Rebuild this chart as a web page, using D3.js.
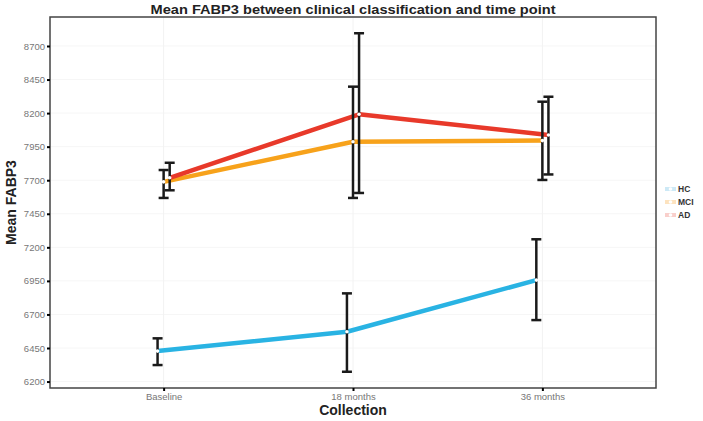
<!DOCTYPE html>
<html>
<head>
<meta charset="utf-8">
<script src="https://cdn.jsdelivr.net/npm/d3@7"></script>
<style>
  html, body { margin: 0; padding: 0; background: #fff; }
  svg { display: block; font-family: "Liberation Sans", Arial, sans-serif; }
</style>
</head>
<body>
<svg id="chart" width="703" height="421"></svg>
<script>
// ---- data ----
const categories = ["Baseline", "18 months", "36 months"];
const groups = ["HC", "MCI", "AD"];
const hcMean = [6427, 6571, 6956];
const hcUpper = [6522, 6857, 7260];
const hcLower = [6323, 6273, 6658];
const mciMean = [7688, 7987, 7995];
const mciUpper = [7776, 8397, 8285];
const mciLower = [7568, 7568, 7702];
const adMean = [7718, 8191, 8037];
const adUpper = [7830, 8795, 8322];
const adLower = [7625, 7605, 7743];
const yTicks = [6200, 6450, 6700, 6950, 7200, 7450, 7700, 7950, 8200, 8450, 8700];
const colors = ["#29b3e3", "#f7a21b", "#e8392a"];
const legendColors = ["#cde9f6", "#fde3bf", "#f9cfcb"];

const series = [
  { name: groups[0], mean: hcMean, upper: hcUpper, lower: hcLower, color: colors[0], dodge: -0.032 },
  { name: groups[1], mean: mciMean, upper: mciUpper, lower: mciLower, color: colors[1], dodge: 0 },
  { name: groups[2], mean: adMean, upper: adUpper, lower: adLower, color: colors[2], dodge: 0.032 }
];

// ---- layout ----
const svg = d3.select("#chart");
const m = { left: 50, right: 656, top: 17, bottom: 388 };

const x = d3.scalePoint().domain(categories).range([m.left, m.right]).padding(0.6);
const step = x.step();
const y = d3.scaleLinear().domain([6152, 8916]).range([m.bottom, m.top]);

// gridlines (very faint)
const grid = svg.append("g");
grid.selectAll("line.h").data(yTicks).join("line")
  .attr("x1", m.left).attr("x2", m.right)
  .attr("y1", d => y(d)).attr("y2", d => y(d))
  .attr("stroke", "#f6f6f6").attr("stroke-width", 1);
grid.selectAll("line.v").data(categories).join("line")
  .attr("y1", m.top).attr("y2", m.bottom)
  .attr("x1", d => x(d)).attr("x2", d => x(d))
  .attr("stroke", "#f2f2f2").attr("stroke-width", 1);

// panel border
svg.append("rect")
  .attr("x", m.left).attr("y", m.top)
  .attr("width", m.right - m.left).attr("height", m.bottom - m.top)
  .attr("fill", "none").attr("stroke", "#444").attr("stroke-width", 1.5);

// y axis
const yAxis = svg.append("g").attr("transform", `translate(${m.left},0)`)
  .call(d3.axisLeft(y).tickValues(yTicks).tickSize(3).tickPadding(2).tickFormat(d3.format("d")));
yAxis.select(".domain").remove();
yAxis.selectAll(".tick line").attr("stroke", "#000").attr("stroke-width", 2);
yAxis.selectAll(".tick text").attr("fill", "#777").attr("font-size", 9.5);

// x axis
const xAxis = svg.append("g").attr("transform", `translate(0,${m.bottom})`)
  .call(d3.axisBottom(x).tickSize(3).tickPadding(2));
xAxis.select(".domain").remove();
xAxis.selectAll(".tick line").attr("stroke", "#000").attr("stroke-width", 2);
xAxis.selectAll(".tick text").attr("fill", "#777").attr("font-size", 9.5);

const px = (c, s) => x(c) + s.dodge * step;

// lines
const line = d3.line().x(d => d[0]).y(d => d[1]);
series.forEach(s => {
  const pts = categories.map((c, i) => [px(c, s), y(s.mean[i])]);
  svg.append("path").datum(pts)
    .attr("d", line).attr("fill", "none")
    .attr("stroke", s.color).attr("stroke-width", 4.5)
    .attr("stroke-linejoin", "round");
});

// error bars
const capW = 5;
series.forEach(s => {
  const g = svg.append("g");
  categories.forEach((c, i) => {
    const cx = px(c, s);
    g.append("line").attr("x1", cx).attr("x2", cx)
      .attr("y1", y(s.upper[i])).attr("y2", y(s.lower[i]))
      .attr("stroke", "#1a1a1a").attr("stroke-width", 2.5);
    [s.upper[i], s.lower[i]].forEach(v => {
      g.append("line").attr("x1", cx - capW).attr("x2", cx + capW)
        .attr("y1", y(v)).attr("y2", y(v))
        .attr("stroke", "#1a1a1a").attr("stroke-width", 2.5);
    });
  });
});

// points (white)
series.forEach(s => {
  svg.append("g").selectAll("circle").data(categories).join("circle")
    .attr("cx", c => px(c, s)).attr("cy", (c, i) => y(s.mean[i]))
    .attr("r", 1.8).attr("fill", "#fff");
});

// title
svg.append("text")
  .attr("x", (m.left + m.right) / 2).attr("y", 14)
  .attr("text-anchor", "middle").attr("font-weight", "bold")
  .attr("font-size", 13).attr("fill", "#222")
  .attr("textLength", 405).attr("lengthAdjust", "spacingAndGlyphs")
  .text("Mean FABP3 between clinical classification and time point");

// axis titles
svg.append("text")
  .attr("x", (m.left + m.right) / 2).attr("y", 415)
  .attr("text-anchor", "middle").attr("font-weight", "bold")
  .attr("font-size", 14).attr("fill", "#222")
  .text("Collection");
svg.append("text")
  .attr("transform", `translate(16,${(m.top + m.bottom) / 2}) rotate(-90)`)
  .attr("text-anchor", "middle").attr("font-weight", "bold")
  .attr("font-size", 14).attr("fill", "#222")
  .text("Mean FABP3");

// legend
const leg = svg.append("g").attr("transform", "translate(665,189)");
groups.forEach((gname, i) => {
  const row = leg.append("g").attr("transform", `translate(0,${i * 13})`);
  row.append("line").attr("x1", 0).attr("x2", 11).attr("y1", 0).attr("y2", 0)
    .attr("stroke", legendColors[i]).attr("stroke-width", 4);
  row.append("circle").attr("cx", 5.5).attr("cy", 0).attr("r", 1.8).attr("fill", "#fff");
  row.append("text").attr("x", 13).attr("y", 3)
    .attr("font-size", 8.5).attr("font-weight", "bold").attr("fill", "#333")
    .text(gname);
});
</script>
</body>
</html>
